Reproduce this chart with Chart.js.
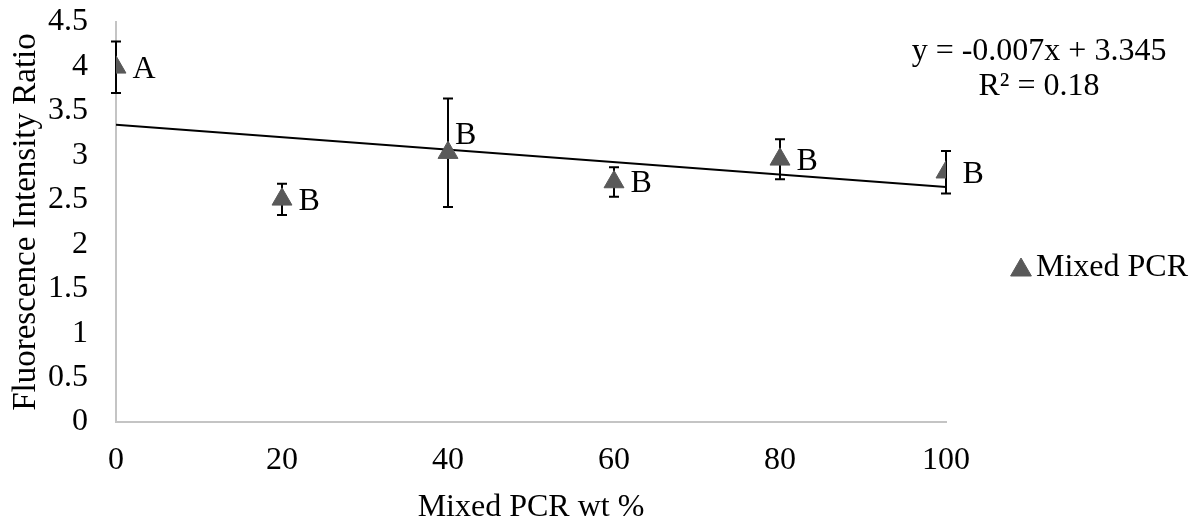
<!DOCTYPE html>
<html>
<head>
<meta charset="utf-8">
<title>Fluorescence Intensity Ratio vs Mixed PCR wt %</title>
<script src="https://cdn.jsdelivr.net/npm/chart.js@4/dist/chart.umd.min.js"></script>
<style>
  html, body { margin: 0; padding: 0; background: #fff; }
  #wrap { width: 1194px; height: 519px; }
</style>
</head>
<body>
<div id="wrap"><canvas id="grafico" width="1194" height="519"></canvas></div>
<script>
// datos
const pcrWt = [0, 20, 40, 60, 80, 100];
const ratio = [3.99, 2.505, 3.03, 2.70, 2.955, 2.81];
const ratioErr = [0.29, 0.175, 0.61, 0.165, 0.225, 0.24];
const groupLetters = ['A', 'B', 'B', 'B', 'B', 'B'];
// linea de tendencia: y = -0.007x + 3.345
const trendX = [0, 100];
const trendY = [3.345, 2.645];
const xTicks = [0, 20, 40, 60, 80, 100];
const yTicks = [0, 0.5, 1, 1.5, 2, 2.5, 3, 3.5, 4, 4.5];
const equationText = ['y = -0.007x + 3.345', 'R² = 0.18'];
const seriesName = 'Mixed PCR';

const FONT = "'Liberation Serif', 'Times New Roman', serif";
const markerColor = '#595959';

// barras de error (detras de los marcadores)
const errorBars = {
  id: 'errorBars',
  beforeDatasetsDraw(chart, args, opts) {
    const { ctx, scales: { x, y } } = chart;
    ctx.save();
    ctx.strokeStyle = opts.color;
    ctx.lineWidth = opts.width;
    pcrWt.forEach((v, i) => {
      const px = x.getPixelForValue(v);
      const top = y.getPixelForValue(ratio[i] + ratioErr[i]);
      const bot = y.getPixelForValue(ratio[i] - ratioErr[i]);
      ctx.beginPath();
      ctx.moveTo(px, top); ctx.lineTo(px, bot);
      ctx.moveTo(px - opts.cap, top); ctx.lineTo(px + opts.cap, top);
      ctx.moveTo(px - opts.cap, bot); ctx.lineTo(px + opts.cap, bot);
      ctx.stroke();
    });
    ctx.restore();
  }
};

// letras de significancia junto a cada punto
const pointLetters = {
  id: 'pointLetters',
  afterDatasetsDraw(chart, args, opts) {
    const { ctx } = chart;
    const meta = chart.getDatasetMeta(0);
    ctx.save();
    ctx.font = opts.font;
    ctx.fillStyle = '#000';
    ctx.textBaseline = 'middle';
    ctx.textAlign = 'left';
    meta.data.forEach((pt, i) => {
      const shift = opts.shift[i] || [opts.dx, opts.dy];
      ctx.fillText(groupLetters[i], pt.x + shift[0], pt.y + shift[1]);
    });
    ctx.restore();
  }
};

// ecuacion, R² y leyenda
const annotations = {
  id: 'annotations',
  afterDraw(chart, args, opts) {
    const { ctx } = chart;
    ctx.save();
    ctx.font = opts.font;
    ctx.fillStyle = '#000';
    ctx.textBaseline = 'middle';
    ctx.textAlign = 'center';
    equationText.forEach((t, i) => {
      ctx.fillText(t, opts.eqX, opts.eqY + i * opts.eqGap);
    });
    // leyenda
    ctx.fillStyle = markerColor;
    ctx.strokeStyle = markerColor;
    Chart.helpers.drawPoint(ctx, { pointStyle: 'triangle', radius: opts.legendR, borderWidth: 1 }, opts.legendX, opts.legendY + 2);
    ctx.fillStyle = '#000';
    ctx.textAlign = 'left';
    ctx.fillText(seriesName, opts.legendX + 15, opts.legendY);
    ctx.restore();
  }
};

new Chart(document.getElementById('grafico').getContext('2d'), {
  type: 'scatter',
  data: {
    datasets: [
      {
        label: seriesName,
        data: pcrWt.map((v, i) => ({ x: v, y: ratio[i] })),
        pointStyle: 'triangle',
        pointRadius: 11.5,
        pointBackgroundColor: markerColor,
        pointBorderColor: markerColor,
        pointBorderWidth: 1,
        showLine: false
      },
      {
        label: 'Lineal',
        data: trendX.map((v, i) => ({ x: v, y: trendY[i] })),
        showLine: true,
        borderColor: '#000',
        borderWidth: 2,
        pointRadius: 0
      }
    ]
  },
  options: {
    responsive: false,
    animation: false,
    layout: { padding: { left: 4, right: 248, top: 0, bottom: 0 } },
    plugins: {
      legend: { display: false },
      tooltip: { enabled: false },
      errorBars: { color: '#000', width: 2, cap: 5 },
      pointLetters: { font: '32px ' + FONT, dx: 16.5, dy: 2, shift: { 2: [7, -17] } },
      annotations: {
        font: '32px ' + FONT,
        eqX: 1039, eqY: 52, eqGap: 35,
        legendX: 1021, legendY: 268, legendR: 12
      }
    },
    scales: {
      x: {
        type: 'linear',
        min: 0,
        max: 100,
        afterBuildTicks: (axis) => { axis.ticks = xTicks.map(v => ({ value: v })); },
        afterFit: (axis) => { axis.height = 97; },
        grid: { display: false, drawTicks: false },
        border: { display: true, color: '#c4c4c4', width: 2 },
        ticks: { color: '#000', padding: 23, font: { family: FONT, size: 32, lineHeight: 1 } },
        title: {
          display: true,
          text: 'Mixed PCR wt %',
          color: '#000',
          font: { family: FONT, size: 32, lineHeight: 1 },
          padding: { top: 13, bottom: -5 }
        }
      },
      y: {
        type: 'linear',
        min: 0,
        max: 4.5,
        afterBuildTicks: (axis) => { axis.ticks = yTicks.map(v => ({ value: v })); },
        afterFit: (axis) => {
          axis.width = 112;
          axis.paddingTop = 22;
          axis.paddingBottom = 0;
        },
        grid: { display: false, drawTicks: false },
        border: { display: true, color: '#c4c4c4', width: 2 },
        ticks: {
          color: '#000',
          padding: 28,
          font: { family: FONT, size: 32, lineHeight: 1 },
          callback: (v) => String(v)
        },
        title: {
          display: true,
          text: 'Fluorescence Intensity Ratio',
          color: '#000',
          font: { family: FONT, size: 33, lineHeight: 1.1 },
          padding: { top: 4, bottom: 4 }
        }
      }
    }
  },
  plugins: [errorBars, pointLetters, annotations]
});
</script>
</body>
</html>
